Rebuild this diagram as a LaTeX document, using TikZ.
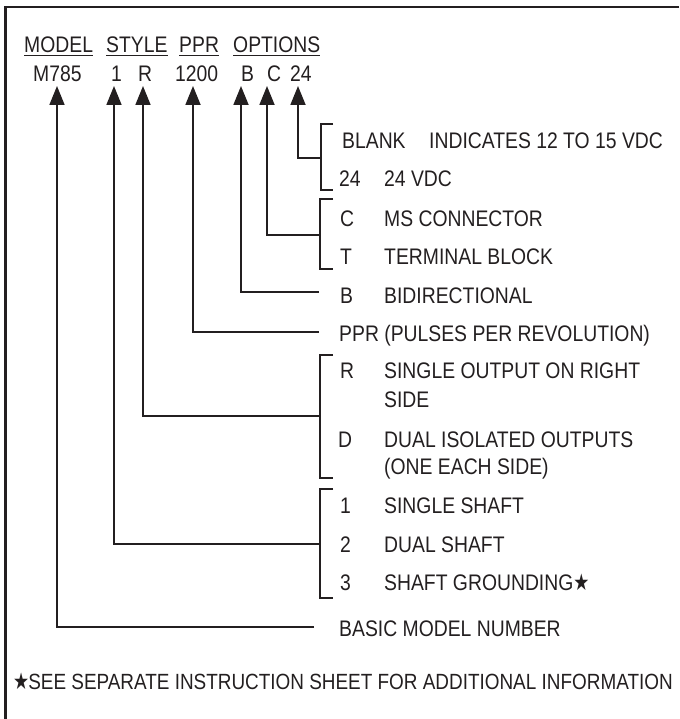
\documentclass[tikz,border=0pt]{standalone}
\usepackage{fontspec}
\setmainfont{Liberation Sans}[FakeStretch=0.86]
\newfontfamily\starfont{DejaVu Sans}[FakeStretch=0.78]
\usetikzlibrary{arrows.meta,calc}
\definecolor{ink}{HTML}{231F20}
\newcommand{\mystar}{{\starfont\fontsize{23}{23}\selectfont ★}}
\begin{document}
\begin{tikzpicture}[x=1pt,y=-1pt,
  every node/.style={inner sep=0pt, anchor=base west, text=ink, font=\fontsize{22.5}{26}\selectfont},
  ln/.style={draw=ink, line width=1.8pt},
  arr/.style={ln, -{Triangle[length=19pt,width=15pt]}},
  brk/.style={draw=ink, line width=1.8pt},
  uline/.style={draw=ink, line width=1.3pt}]
\useasboundingbox (0,0) rectangle (679,719);
% frame (top and left only)
\draw[ink, line width=2.6pt] (679,7) -- (5.5,7) -- (5.5,719);

% header
\node (hmodel) at (24,53) {MODEL};
\node (hstyle) at (106,53) {STYLE};
\node (hppr) at (179,53) {PPR};
\node (hopt) at (233,53) {OPTIONS};
\foreach \n in {hmodel,hstyle,hppr,hopt}
  \draw[uline] ($(\n.base west)+(0,2.5)$) -- ($(\n.base east)+(0,2.5)$);

% code row
\node (cm) at (33,82) {M785};
\node (c1) at (111,82) {1};
\node (cr) at (138,82) {R};
\node (cppr) at (175,82) {1200};
\node (cb) at (241,82) {B};
\node (cc) at (267,82) {C};
\node (c24) at (290,82) {24};

% arrow tips
\coordinate (tm) at (57,86);
\coordinate (t1) at (114,86);
\coordinate (tr) at (143,86);
\coordinate (tppr) at (193,86);
\coordinate (tb) at (241,86);
\coordinate (tc) at (267,86);
\coordinate (t24) at (298,86);

% right-hand explanations
\node (oblank) at (342,149) {BLANK};
\node (dblank) at (429,149) {INDICATES 12 TO 15 VDC};
\node (o24) at (339,187) {24};
\node (d24) at (384,187) {24 VDC};
\node (oc) at (340,226) {C};
\node (dc) at (384,226) {MS CONNECTOR};
\node (ot) at (340,264) {T};
\node (dt) at (384,264) {TERMINAL BLOCK};
\node (ob) at (340,303) {B};
\node (db) at (384,303) {BIDIRECTIONAL};
\node (oppr) at (339,341) {PPR (PULSES PER REVOLUTION)};
\node (or) at (340,378) {R};
\node (dr) at (384,378) {SINGLE OUTPUT ON RIGHT};
\node (dr2) at (384,407) {SIDE};
\node (od) at (338,447) {D};
\node (dd) at (384,447) {DUAL ISOLATED OUTPUTS};
\node (dd2) at (384,474) {(ONE EACH SIDE)};
\node (o1) at (340,513) {1};
\node (d1) at (384,513) {SINGLE SHAFT};
\node (o2) at (340,552) {2};
\node (d2) at (384,552) {DUAL SHAFT};
\node (o3) at (340,590) {3};
\node (d3) at (384,590) {SHAFT GROUNDING\mystar};
\node (obasic) at (339,636) {BASIC MODEL NUMBER};
\node[font=\fontsize{22}{26}\selectfont] (foot) at (13,689) {\mystar\kern-1pt SEE SEPARATE INSTRUCTION SHEET FOR ADDITIONAL INFORMATION};

% brackets
\draw[brk] (333,124) -- (321,124) -- (321,190) -- (333,190);
\draw[brk] (333,199) -- (320,199) -- (320,269) -- (333,269);
\draw[brk] (333,355) -- (320,355) -- (320,478) -- (333,478);
\draw[brk] (333,489) -- (320,489) -- (320,598) -- (333,598);

% bracket joints
\coordinate (j24) at (321,158);
\coordinate (jc) at (320,235);
\coordinate (jb) at (319,292);
\coordinate (jppr) at (319,332);
\coordinate (jr) at (320,416);
\coordinate (j1) at (320,544);
\coordinate (jm) at (314,627);

% connectors
\draw[arr] (j24) -| (t24);
\draw[arr] (jc) -| (tc);
\draw[arr] (jb) -| (tb);
\draw[arr] (jppr) -| (tppr);
\draw[arr] (jr) -| (tr);
\draw[arr] (j1) -| (t1);
\draw[arr] (jm) -| (tm);
\end{tikzpicture}
\end{document}
